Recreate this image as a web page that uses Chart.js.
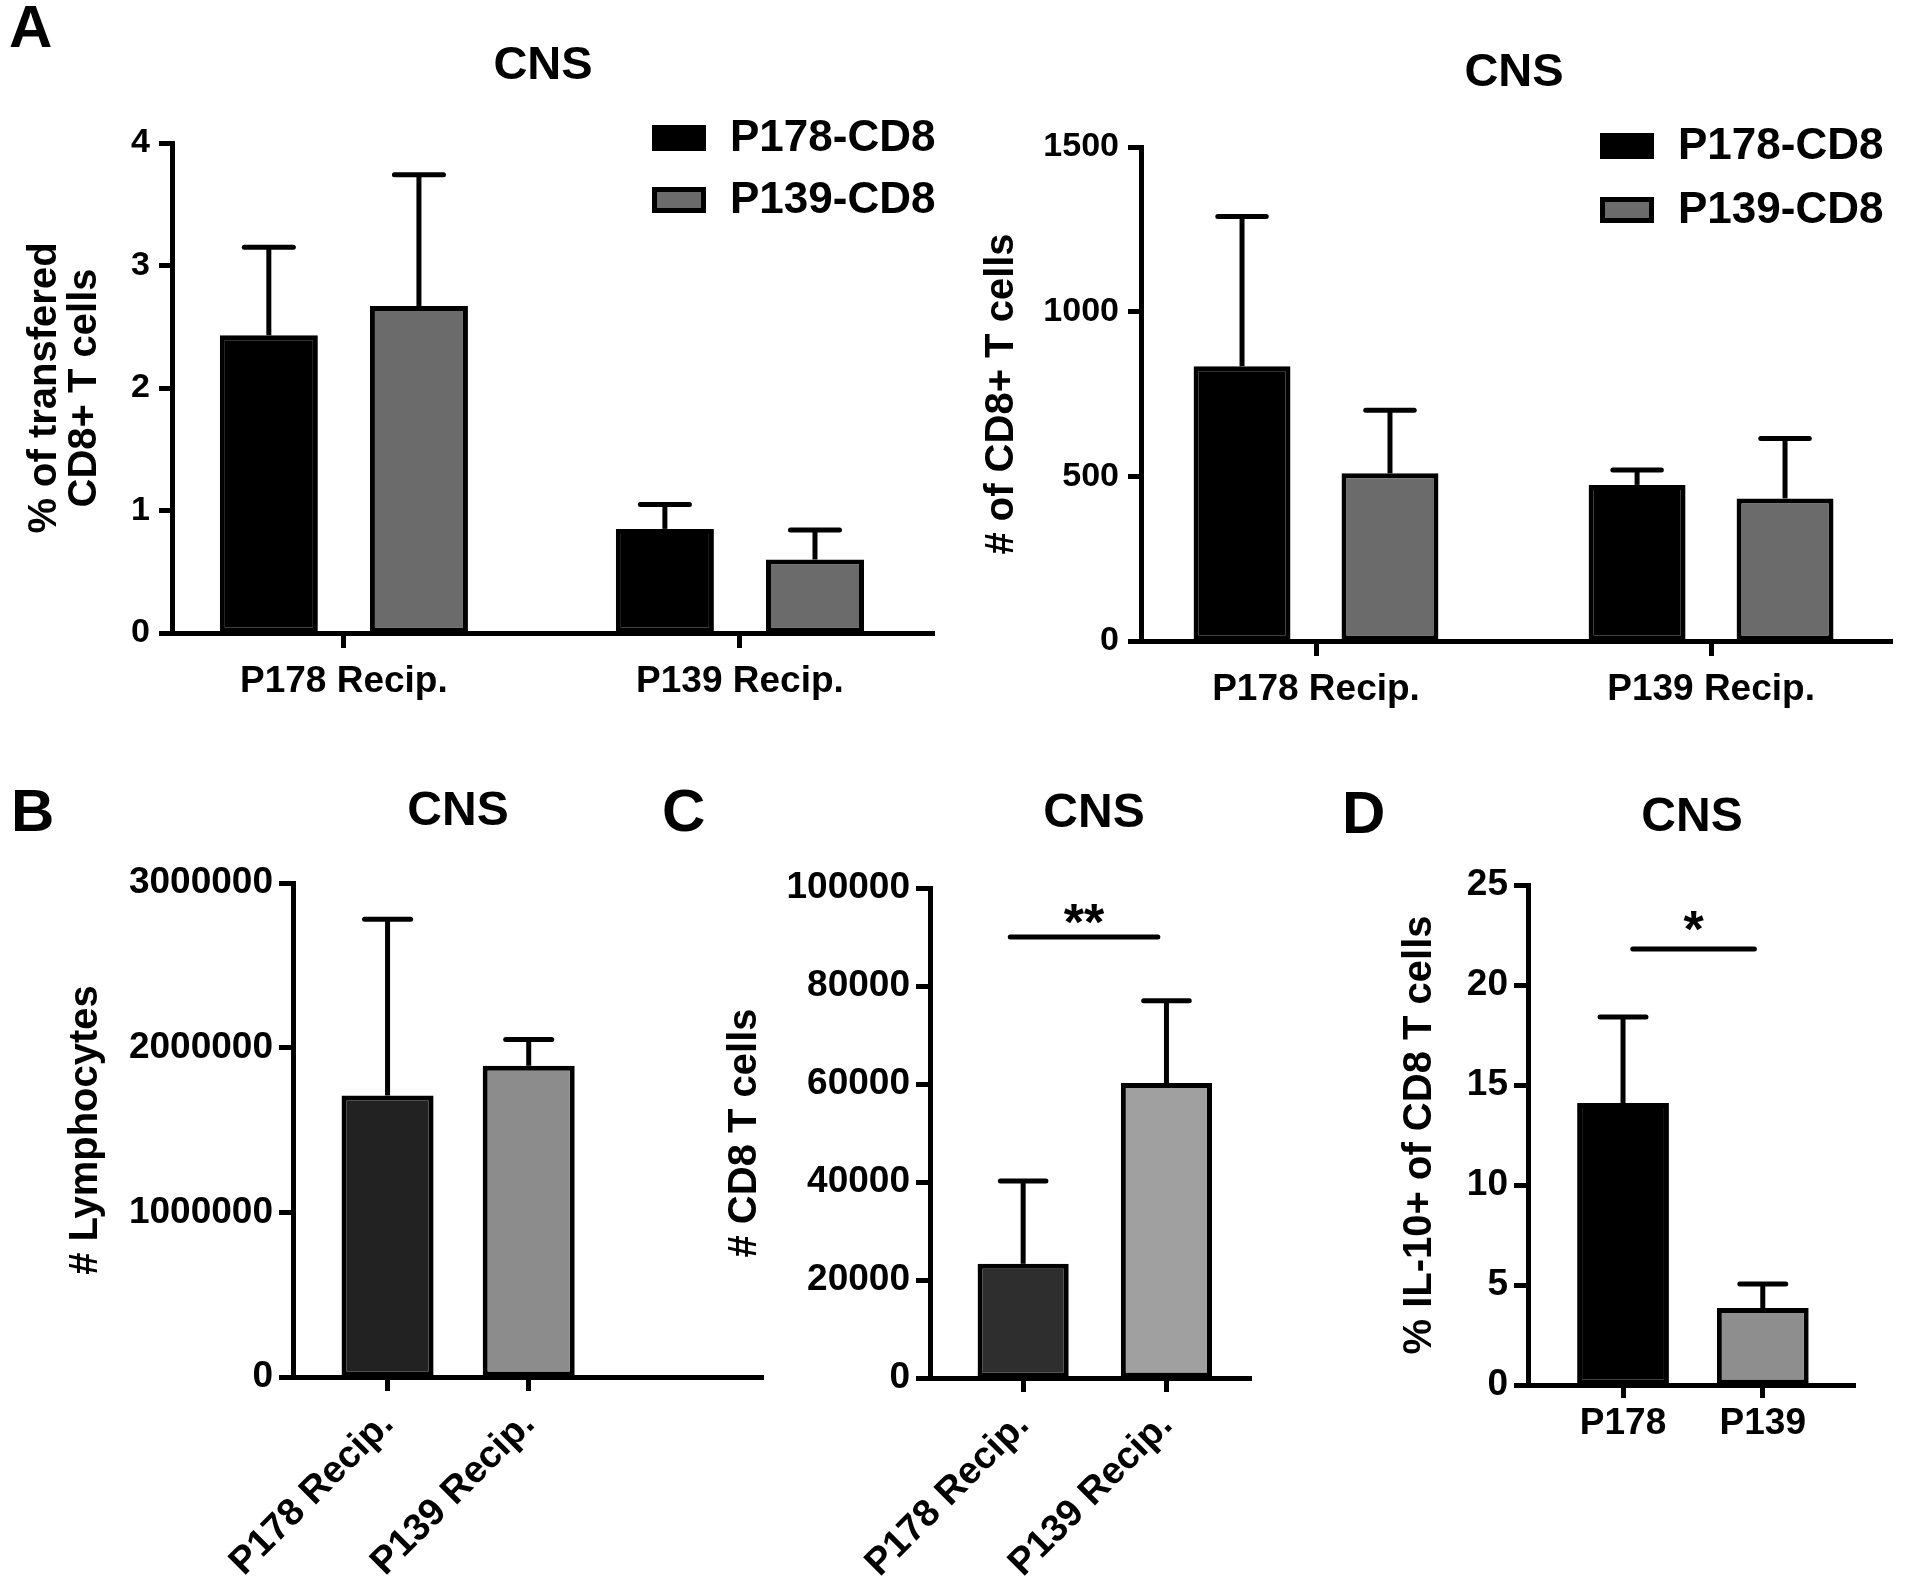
<!DOCTYPE html>
<html>
<head>
<meta charset="utf-8">
<script src="https://cdn.jsdelivr.net/npm/chart.js@4.4.1/dist/chart.umd.min.js"></script>
<style>
  body { margin: 0; background: #fff; }
  #wrap { position: relative; width: 1914px; height: 1587px; }
  #wrap canvas { position: absolute; left: 0; top: 0; }
</style>
</head>
<body>
<div id="wrap">
  <canvas id="chartA1" width="1914" height="1587"></canvas>
  <canvas id="chartA2" width="1914" height="1587"></canvas>
  <canvas id="chartB" width="1914" height="1587"></canvas>
  <canvas id="chartC" width="1914" height="1587"></canvas>
  <canvas id="chartD" width="1914" height="1587"></canvas>
</div>
<script>
// ---- data ----
const recipients = ['P178 Recip.', 'P139 Recip.'];
const donors = ['P178-CD8', 'P139-CD8'];
const groupsD = ['P178', 'P139'];

// A left: % of transfered CD8+ T cells
const pctP178cd8 = [2.43, 0.85];
const pctP178cd8Err = [0.72, 0.20];
const pctP139cd8 = [2.67, 0.60];
const pctP139cd8Err = [1.07, 0.24];

// A right: # of CD8+ T cells
const numP178cd8 = [834, 474];
const numP178cd8Err = [455, 45];
const numP139cd8 = [509, 433];
const numP139cd8Err = [192, 182];

// B: # lymphocytes
const lymphocytes = [1710000, 1890000];
const lymphocytesErr = [1070000, 160000];

// C: # CD8 T cells
const cd8Count = [23300, 60200];
const cd8CountErr = [16900, 16800];

// D: % IL-10+ of CD8 T cells
const il10Pct = [14.1, 3.85];
const il10PctErr = [4.3, 1.2];

const FONT = "'Liberation Sans', Arial, Helvetica, sans-serif";
const PAGE_W = 1914, PAGE_H = 1587;

function pts(vals) {
  return vals.map((y, i) => ({ x: i, y: y }));
}

function bold(size, lh) {
  return { family: FONT, size: size, weight: 'bold', lineHeight: lh || 1.2 };
}

// error bars, titles, legend, significance bar
const decorPlugin = {
  id: 'decor',
  afterDatasetsDraw(chart, args, opts) {
    const ctx = chart.ctx, ys = chart.scales.y;
    ctx.save();
    ctx.strokeStyle = '#000';
    ctx.lineWidth = 5;
    chart.data.datasets.forEach((ds, di) => {
      const meta = chart.getDatasetMeta(di);
      meta.data.forEach((bar, i) => {
        const top = ys.getPixelForValue(ds.data[i].y + ds.errors[i]);
        const half = bar.width * 0.25;
        ctx.beginPath();
        ctx.lineCap = 'butt';
        ctx.moveTo(bar.x, bar.y);
        ctx.lineTo(bar.x, top);
        ctx.stroke();
        ctx.beginPath();
        ctx.lineCap = 'round';
        ctx.moveTo(bar.x - half, top);
        ctx.lineTo(bar.x + half, top);
        ctx.stroke();
      });
    });
    ctx.restore();
  },
  afterDraw(chart, args, opts) {
    const ctx = chart.ctx;
    ctx.save();
    ctx.fillStyle = '#000';
    (opts.texts || []).forEach(t => {
      ctx.font = 'bold ' + t.size + 'px ' + FONT;
      ctx.textAlign = t.align;
      ctx.textBaseline = 'alphabetic';
      ctx.fillText(t.text, t.x, t.y);
    });
    if (opts.legend) {
      const lg = opts.legend;
      chart.data.datasets.forEach((ds, i) => {
        const cy = lg.y + i * lg.gap;
        ctx.fillStyle = '#000';
        ctx.fillRect(lg.x, cy - 13, 54, 26);
        ctx.fillStyle = ds.backgroundColor;
        ctx.fillRect(lg.x + 5, cy - 8, 44, 16);
        ctx.fillStyle = '#000';
        ctx.font = 'bold 44px ' + FONT;
        ctx.textAlign = 'left';
        ctx.textBaseline = 'middle';
        ctx.fillText(ds.label, lg.x + 78, cy + 1);
      });
    }
    if (opts.sig) {
      const s = opts.sig;
      const xs = chart.scales.x, ys = chart.scales.y;
      const yy = ys.getPixelForValue(s.value);
      const x1 = xs.getPixelForValue(s.from), x2 = xs.getPixelForValue(s.to);
      ctx.strokeStyle = '#000';
      ctx.lineWidth = 5;
      ctx.lineCap = 'round';
      ctx.beginPath();
      ctx.moveTo(x1, yy);
      ctx.lineTo(x2, yy);
      ctx.stroke();
      ctx.font = 'bold 52px ' + FONT;
      ctx.textAlign = 'center';
      ctx.textBaseline = 'alphabetic';
      ctx.fillText(s.text, (x1 + x2) / 2, yy + s.dy);
    }
    ctx.restore();
  }
};

function panel(id, o) {
  const yWidth = o.plot.left - o.titleLeft;
  return new Chart(document.getElementById(id), {
    type: 'bar',
    data: { datasets: o.datasets },
    options: {
      responsive: false,
      animation: false,
      devicePixelRatio: 1,
      layout: {
        padding: {
          left: o.titleLeft,
          top: o.plot.top,
          right: PAGE_W - o.plot.right,
          bottom: PAGE_H - o.plot.bottom - o.xHeight
        }
      },
      datasets: {
        bar: {
          categoryPercentage: o.catPct,
          barPercentage: o.barPct,
          borderWidth: 5,
          borderColor: '#000',
          borderSkipped: false
        }
      },
      scales: {
        x: {
          type: 'linear',
          min: o.xMin,
          max: o.xMax,
          offset: false,
          afterBuildTicks: s => { s.ticks = o.labels.map((_, i) => ({ value: i })); },
          afterFit: s => { s.height = o.xHeight; s.paddingLeft = 0; s.paddingRight = 0; },
          border: { display: true, color: '#000', width: 5 },
          grid: { display: true, offset: false, drawOnChartArea: false, drawTicks: true,
                  tickLength: o.xTick, tickWidth: 5, tickColor: '#000', color: '#000' },
          ticks: { autoSkip: false, color: '#000', font: bold(o.xFont || 37), padding: o.xPad,
                   minRotation: o.rot, maxRotation: o.rot,
                   callback: v => o.labels[v] }
        },
        y: {
          min: 0,
          max: o.yMax,
          afterFit: s => { s.width = yWidth; s.paddingTop = 0; s.paddingBottom = 0; },
          border: { display: true, color: '#000', width: 5 },
          grid: { display: true, drawOnChartArea: false, drawTicks: true,
                  tickLength: o.yTick, tickWidth: 5, tickColor: '#000', color: '#000' },
          ticks: { stepSize: o.yStep, color: '#000', font: bold(o.yFont), padding: o.yPad,
                   callback: v => String(v) },
          title: { display: true, text: o.yTitle, color: '#000', font: bold(40, 1), padding: 0 }
        }
      },
      plugins: {
        legend: { display: false },
        tooltip: { enabled: false },
        decor: o.decor
      }
    },
    plugins: [decorPlugin]
  });
}

// A, left
panel('chartA1', {
  labels: recipients,
  datasets: [
    { label: donors[0], data: pts(pctP178cd8), errors: pctP178cd8Err, backgroundColor: '#000000' },
    { label: donors[1], data: pts(pctP139cd8), errors: pctP139cd8Err, backgroundColor: '#6b6b6b' }
  ],
  titleLeft: 25, plot: { left: 172, top: 143, right: 934, bottom: 633 },
  xMin: -0.434, xMax: 1.49, catPct: 0.758, barPct: 0.653,
  yMax: 4, yStep: 1, yFont: 34, yPad: 9, yTick: 13, xTick: 15, xPad: 12, rot: 0, xHeight: 100,
  yTitle: ['% of transfered', 'CD8+ T cells'],
  decor: {
    texts: [
      { text: 'A', x: 9, y: 47, size: 60, align: 'left' },
      { text: 'CNS', x: 543, y: 79, size: 47, align: 'center' }
    ],
    legend: { x: 652, y: 138, gap: 62 }
  }
});

// A, right
panel('chartA2', {
  labels: recipients,
  datasets: [
    { label: donors[0], data: pts(numP178cd8), errors: numP178cd8Err, backgroundColor: '#000000' },
    { label: donors[1], data: pts(numP139cd8), errors: numP139cd8Err, backgroundColor: '#6b6b6b' }
  ],
  titleLeft: 982, plot: { left: 1141, top: 147, right: 1892, bottom: 641 },
  xMin: -0.443, xMax: 1.458, catPct: 0.749, barPct: 0.655,
  yMax: 1500, yStep: 500, yFont: 34, yPad: 9, yTick: 13, xTick: 15, xPad: 12, rot: 0, xHeight: 100,
  yTitle: '# of CD8+ T cells',
  decor: {
    texts: [{ text: 'CNS', x: 1514, y: 86, size: 47, align: 'center' }],
    legend: { x: 1600, y: 146, gap: 64 }
  }
});

// B
panel('chartB', {
  labels: recipients,
  datasets: [
    { label: '# Lymphocytes', data: pts(lymphocytes), errors: lymphocytesErr,
      backgroundColor: ['#222222', '#8c8c8c'] }
  ],
  titleLeft: 66, plot: { left: 293, top: 883, right: 763, bottom: 1377 },
  xMin: -0.67, xMax: 2.66, catPct: 1, barPct: 0.652,
  yMax: 3000000, yStep: 1000000, yFont: 37, yPad: 6, yTick: 14, xTick: 14, xPad: 11, rot: 45, xHeight: 200,
  xFont: 38,
  yTitle: '# Lymphocytes',
  decor: {
    texts: [
      { text: 'B', x: 11, y: 831, size: 60, align: 'left' },
      { text: 'CNS', x: 458, y: 825, size: 48, align: 'center' }
    ]
  }
});

// C
panel('chartC', {
  labels: recipients,
  datasets: [
    { label: '# CD8 T cells', data: pts(cd8Count), errors: cd8CountErr,
      backgroundColor: ['#2e2e2e', '#a0a0a0'] }
  ],
  titleLeft: 725, plot: { left: 930, top: 888, right: 1251, bottom: 1378 },
  xMin: -0.65, xMax: 1.59, catPct: 1, barPct: 0.636,
  yMax: 100000, yStep: 20000, yFont: 37, yPad: 6, yTick: 14, xTick: 14, xPad: 11, rot: 45, xHeight: 200,
  xFont: 38,
  yTitle: '# CD8 T cells',
  decor: {
    texts: [
      { text: 'C', x: 662, y: 831, size: 60, align: 'left' },
      { text: 'CNS', x: 1094, y: 827, size: 48, align: 'center' }
    ],
    sig: { text: '**', value: 90000, from: -0.09, to: 0.94, dy: 3 }
  }
});

// D
panel('chartD', {
  labels: groupsD,
  datasets: [
    { label: '% IL-10+ of CD8 T cells', data: pts(il10Pct), errors: il10PctErr,
      backgroundColor: ['#000000', '#8e8e8e'] }
  ],
  titleLeft: 1400, plot: { left: 1528, top: 885, right: 1855, bottom: 1385 },
  xMin: -0.68, xMax: 1.66, catPct: 1, barPct: 0.657,
  yMax: 25, yStep: 5, yFont: 37, yPad: 6, yTick: 14, xTick: 13, xPad: 4, rot: 0, xHeight: 100,
  yTitle: '% IL-10+ of CD8 T cells',
  decor: {
    texts: [
      { text: 'D', x: 1342, y: 833, size: 60, align: 'left' },
      { text: 'CNS', x: 1692, y: 831, size: 48, align: 'center' }
    ],
    sig: { text: '*', value: 21.8, from: 0.07, to: 0.94, dy: -2 }
  }
});
</script>
</body>
</html>
